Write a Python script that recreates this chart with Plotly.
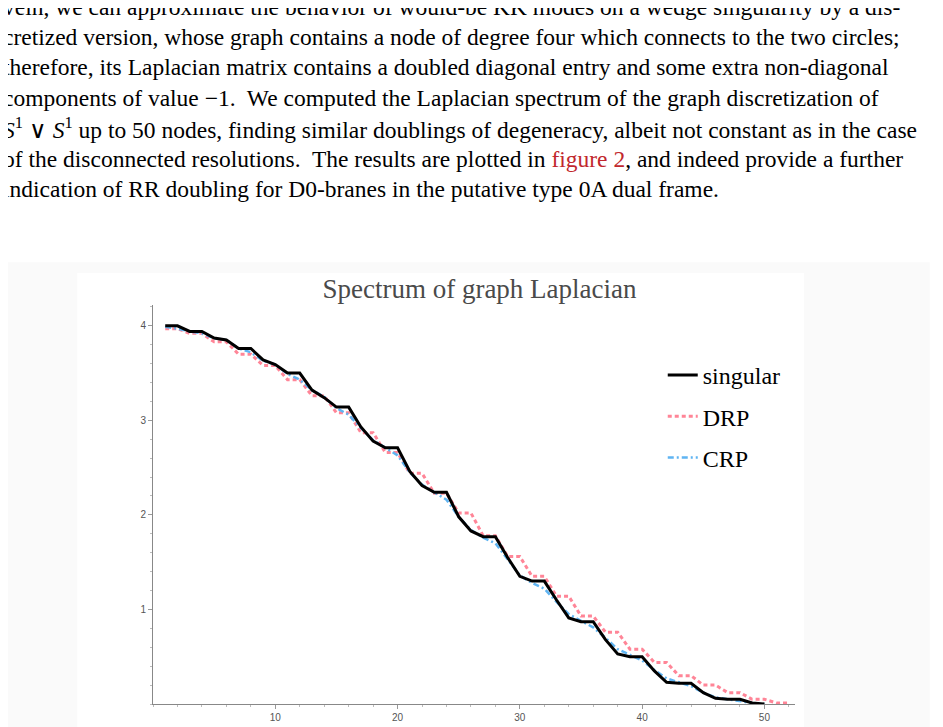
import plotly.graph_objects as go

# --- data ---
n_singular = list(range(1, 51))
singular = [4.00, 4.00, 3.94, 3.94, 3.87, 3.85, 3.76, 3.76, 3.64, 3.59,
            3.50, 3.50, 3.32, 3.24, 3.14, 3.14, 2.93, 2.78, 2.71, 2.71,
            2.46, 2.31, 2.24, 2.24, 1.98, 1.83, 1.77, 1.77, 1.55, 1.35,
            1.30, 1.30, 1.10, 0.91, 0.87, 0.87, 0.68, 0.53, 0.50, 0.50,
            0.35, 0.23, 0.22, 0.22, 0.12, 0.06, 0.05, 0.05, 0.01, 0.00]

n_drp = list(range(1, 53))
drp_pairs = [3.97, 3.92, 3.83, 3.70, 3.58, 3.43, 3.26, 3.08, 2.87, 2.66,
             2.44, 2.23, 2.02, 1.78, 1.56, 1.35, 1.14, 0.93, 0.76, 0.58,
             0.44, 0.30, 0.20, 0.12, 0.05, 0.01]
drp = [v for v in drp_pairs for _ in range(2)]

n_crp = list(range(1, 51))
crp = [3.99, 3.97, 3.94, 3.92, 3.87, 3.85, 3.76, 3.72, 3.63, 3.59,
       3.49, 3.43, 3.32, 3.25, 3.13, 3.06, 2.92, 2.79, 2.71, 2.63,
       2.45, 2.32, 2.24, 2.16, 1.98, 1.84, 1.76, 1.70, 1.53, 1.36,
       1.28, 1.22, 1.08, 0.95, 0.88, 0.81, 0.70, 0.58, 0.52, 0.46,
       0.36, 0.27, 0.23, 0.19, 0.12, 0.07, 0.05, 0.03, 0.01, 0.00]

paragraph = [
    "vein, we can approximate the behavior of would-be KK modes on a wedge singularity by a dis-",
    "cretized version, whose graph contains a node of degree four which connects to the two circles;",
    "therefore, its Laplacian matrix contains a doubled diagonal entry and some extra non-diagonal",
    "components of value \u22121.  We computed the Laplacian spectrum of the graph discretization of",
    "<i>S</i><sup>1</sup> \u2228 <i>S</i><sup>1</sup> up to 50 nodes, finding similar doublings of degeneracy, albeit not constant as in the case",
    "of the disconnected resolutions.  The results are plotted in <span style='color:#c1272d'>figure 2</span>, and indeed provide a further",
    "indication of RR doubling for D0-branes in the putative type 0A dual frame.",
]

serif = "Liberation Serif, Times New Roman, serif"

fig = go.Figure()
fig.add_trace(go.Scatter(x=n_drp, y=drp, mode="lines", name="DRP",
                         legendrank=2, legendgroup="b",
                         line=dict(color="#ff8597", width=3, dash="4px,3px")))
fig.add_trace(go.Scatter(x=n_crp, y=crp, mode="lines", name="CRP",
                         legendrank=3, legendgroup="c",
                         line=dict(color="#5fb4f2", width=2.5, dash="6px,3px,2px,3px")))
fig.add_trace(go.Scatter(x=n_singular, y=singular, mode="lines", name="singular",
                         legendrank=1, legendgroup="a",
                         line=dict(color="black", width=3)))

# page-like backgrounds behind the chart
fig.add_shape(type="rect", xref="paper", yref="paper", layer="below",
              x0=-0.2305, x1=1.21, y0=-0.08, y1=1.107,
              fillcolor="#fafafa", line_width=0)
fig.add_shape(type="rect", xref="paper", yref="paper", layer="below",
              x0=-0.118, x1=1.014, y0=-0.08, y1=1.080,
              fillcolor="white", line_width=0)

for i, line in enumerate(paragraph):
    fig.add_annotation(text=line, xref="paper", yref="paper",
                       x=-0.237, y=1.748 - i * 0.0762, xanchor="left", yanchor="middle",
                       showarrow=False, font=dict(family=serif, size=23.5, color="black"))

fig.update_layout(
    width=943, height=727,
    margin=dict(l=145, r=156, t=297, b=29),
    paper_bgcolor="white", plot_bgcolor="white",
    title=dict(text="Spectrum of graph Laplacian", x=0.5, xanchor="center",
               y=0.614, yanchor="middle",
               font=dict(family=serif, size=27, color="#4a4a4a")),
    legend=dict(x=0.794, y=0.88, xanchor="left", yanchor="top",
                bgcolor="rgba(0,0,0,0)",
                font=dict(family=serif, size=24, color="black"),
                itemwidth=30, tracegroupgap=7),
    showlegend=True,
)
fig.update_xaxes(range=[0, 52.5], tickvals=[10, 20, 30, 40, 50], ticks="outside",
                 ticklen=4, tickcolor="#999", showline=True, linecolor="#888",
                 showgrid=False, zeroline=False,
                 tickfont=dict(family="Liberation Sans, Arial", size=10, color="#555"),
                 minor=dict(dtick=2, ticks="outside", ticklen=2, tickcolor="#bbb"))
fig.update_yaxes(range=[0, 4.22], tickvals=[1, 2, 3, 4], ticks="outside",
                 ticklen=4, tickcolor="#999", showline=True, linecolor="#888",
                 showgrid=False, zeroline=False,
                 tickfont=dict(family="Liberation Sans, Arial", size=10, color="#555"),
                 minor=dict(dtick=0.2, ticks="outside", ticklen=2, tickcolor="#bbb"))

fig.write_html("out.html")
